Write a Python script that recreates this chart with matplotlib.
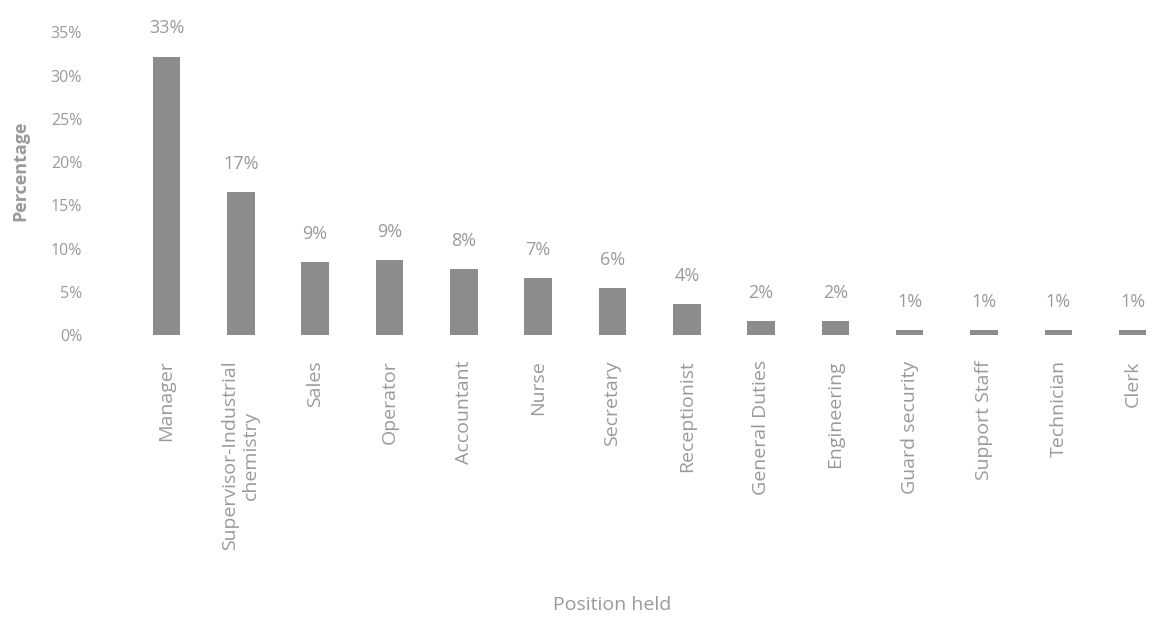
import matplotlib.pyplot as plt
from matplotlib.ticker import PercentFormatter

# Position held vs share of respondents
positions = ["Manager", "Supervisor-Industrial\nchemistry", "Sales", "Operator",
             "Accountant", "Nurse", "Secretary", "Receptionist", "General Duties",
             "Engineering", "Guard security", "Support Staff", "Technician", "Clerk"]
heights = [32.2, 16.5, 8.5, 8.7, 7.7, 6.6, 5.5, 3.6, 1.6, 1.6, 0.6, 0.6, 0.6, 0.6]
labels = ["33%", "17%", "9%", "9%", "8%", "7%", "6%", "4%", "2%", "2%",
          "1%", "1%", "1%", "1%"]

plt.rcParams["font.family"] = ["Open Sans", "DejaVu Sans"]
txt = "#9a9a9a"

fig = plt.figure(figsize=(11.55, 6.21), dpi=100)
ax = fig.add_axes([0.112, 0.46, 0.888, 0.502])

x = range(len(positions))
bars = ax.bar(x, heights, width=0.37, color="#8c8c8c")
for b, lab in zip(bars, labels):
    ax.text(b.get_x() + b.get_width() / 2, b.get_height() + 2.2, lab,
            ha="center", va="bottom", fontsize=13, color=txt)

ax.set_xlim(-0.5, 13.3)
ax.set_ylim(0, 36)
ax.set_yticks(range(0, 36, 5))
ax.yaxis.set_major_formatter(PercentFormatter(decimals=0))
ax.set_xticks(list(x))
ax.set_xticklabels(positions, rotation=90, fontsize=14, color=txt, va="top")
ax.tick_params(axis="x", length=0, colors=txt, pad=18)
ax.tick_params(axis="y", length=0, colors=txt, labelsize=11.5, pad=34)
for s in ax.spines.values():
    s.set_visible(False)

fig.text(0.018, 0.725, "Percentage", rotation=90, ha="center", va="center",
         fontsize=13, color=txt, fontweight="bold")
fig.text(0.53, 0.026, "Position held", ha="center", va="center", fontsize=14, color=txt)

fig.savefig("out.png", dpi=100)
